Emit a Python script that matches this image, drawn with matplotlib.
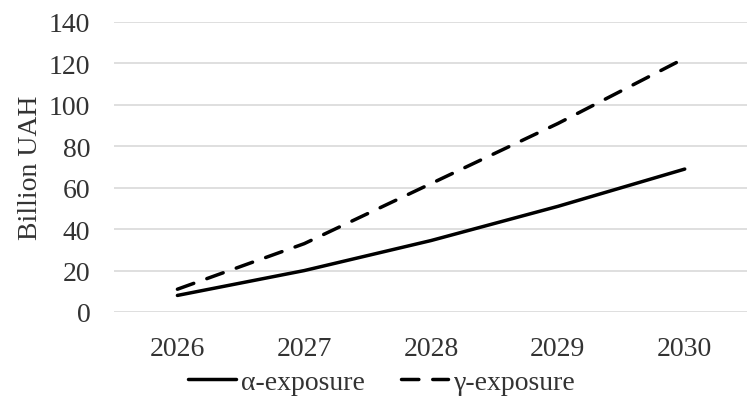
import matplotlib.pyplot as plt

# data
years = ["2026", "2027", "2028", "2029", "2030"]
alpha_exposure = [8, 20, 34.5, 51, 69]
gamma_exposure = [11, 33, 62, 91, 122.5]
y_ticks = [0, 20, 40, 60, 80, 100, 120, 140]

plt.rcParams['font.family'] = ['Liberation Serif', 'DejaVu Serif']
fs = 20
txt_color = "#333333"

fig = plt.figure(figsize=(7.47, 4.10), dpi=100)
ax = fig.add_axes([114 / 747, 1 - 313 / 410, 1 - 114 / 747 + 0.01, 290 / 410])

x = range(len(years))
ax.plot(x, alpha_exposure, color="black", lw=2.5, label="α-exposure", solid_capstyle="round")
ax.plot(x, gamma_exposure, color="black", lw=2.5, dashes=(5.0, 4.0), label="γ-exposure",
        dash_capstyle="round")

ax.set_xlim(-0.5, 4.55)
ax.set_ylim(0, 140)
ax.set_yticks(y_ticks)
ax.set_xticks(list(x))
ax.set_xticklabels(years)
ax.grid(axis="y", color="#d9d9d9", lw=1.2)
ax.set_axisbelow(True)
for s in ax.spines.values():
    s.set_visible(False)
ax.tick_params(axis="both", length=0, labelsize=fs, colors=txt_color)
ax.tick_params(axis="y", pad=17)
ax.tick_params(axis="x", pad=17)
ax.set_ylabel("Billion UAH", fontsize=fs, color=txt_color, labelpad=4)

leg = fig.legend(loc="center", bbox_to_anchor=(382 / 747, 1 - 383 / 410), ncol=2,
                 frameon=False, fontsize=fs, handlelength=1.7, handletextpad=0.2,
                 columnspacing=1.3)
for t in leg.get_texts():
    t.set_color(txt_color)

fig.savefig("out.png", dpi=100)
